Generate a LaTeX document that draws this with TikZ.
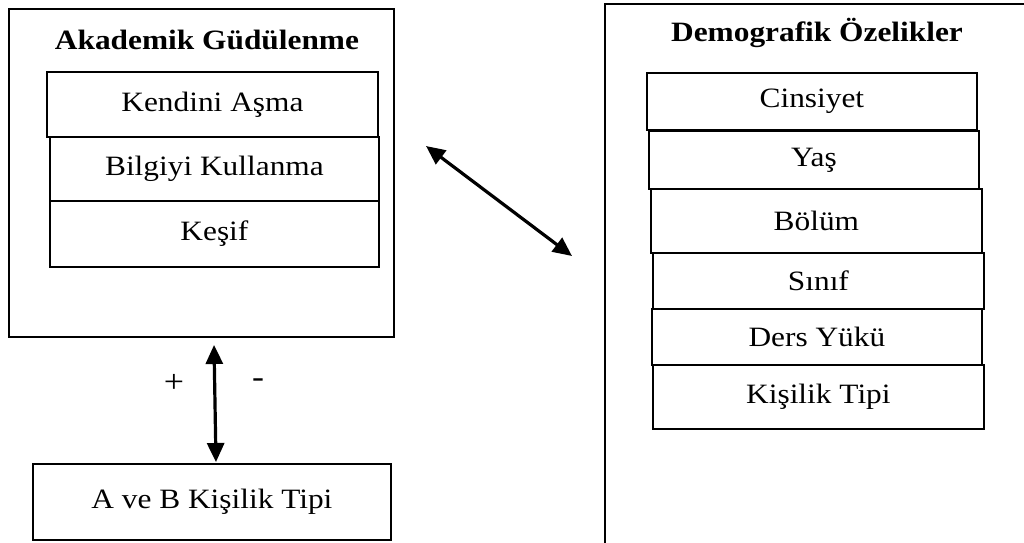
\documentclass[tikz,border=0pt]{standalone}
\usepackage{fontspec}
\setmainfont{Liberation Serif}[FakeStretch=1.12]
\usetikzlibrary{arrows.meta}
\begin{document}
\begin{tikzpicture}[x=1pt,y=-1pt,
  outer/.style={draw, line width=2pt, inner sep=0pt, anchor=north west},
  item/.style={draw, line width=1.8pt, inner sep=0pt, anchor=north west, font=\fontsize{28}{32}\selectfont},
  ttl/.style={font=\fontsize{28}{32}\selectfont\bfseries, inner sep=0pt},
  sign/.style={font=\fontsize{32}{36}\selectfont, inner sep=0pt},
  dbl/.style={{Triangle[length=19pt,width=17pt]}-{Triangle[length=19pt,width=17pt]}, line width=3.2pt}]
\useasboundingbox (0,0) rectangle (1024,542);
\clip (0,0) rectangle (1024,542);
% left group
\node[outer, minimum width=385pt, minimum height=328pt] (ag) at (8,8) {};
\node[ttl] (agt) at (207,40) {Akademik Güdülenme};
\node[item, minimum width=331pt, minimum height=65pt] (ka) at (46,71) {Kendini Aşma};
\node[item, minimum width=329pt, minimum height=64pt] (bk) at (49,136) {Bilgiyi Kullanma};
\node[item, minimum width=329pt, minimum height=66pt] (ks) at (49,200) {Keşif};
\node[item, minimum width=358pt, minimum height=76pt] (ab) at (32,463) {A ve B Kişilik Tipi};
% right group
\node[outer, minimum width=500pt, minimum height=600pt] (do) at (604,3) {};
\node[ttl] (dot) at (817,33) {Demografik Özelikler};
\node[item, minimum width=330pt, minimum height=57pt] (c1) at (646,72) {Cinsiyet};
\node[item, minimum width=330pt, minimum height=58pt] (c2) at (648,130) {Yaş};
\node[item, minimum width=331pt, minimum height=64pt] (c3) at (650,188) {Bölüm};
\node[item, minimum width=331pt, minimum height=56pt] (c4) at (652,252) {Sınıf};
\node[item, minimum width=330pt, minimum height=56pt] (c5) at (651,308) {Ders Yükü};
\node[item, minimum width=331pt, minimum height=64pt] (c6) at (652,364) {Kişilik Tipi};
% connectors
\coordinate (v1) at (214,345);
\coordinate (v2) at (216,462);
\draw[dbl] (v1) -- (v2);
\node[sign] (plus) at (174,383) {+};
\node[sign] (minus) at (258,383) {-};
\coordinate (d1) at (426,146);
\coordinate (d2) at (572,256);
\draw[dbl] (d1) -- (d2);
\end{tikzpicture}
\end{document}
